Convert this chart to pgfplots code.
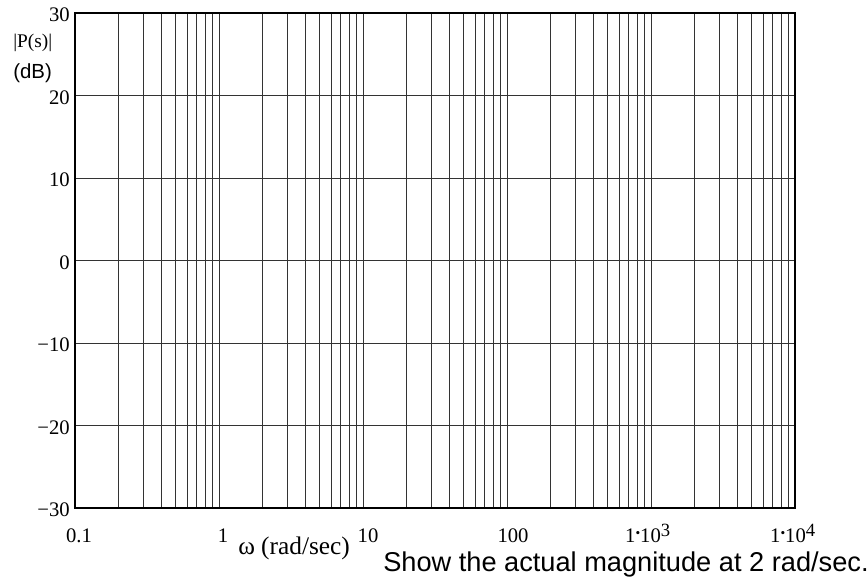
\documentclass[border=0pt]{standalone}
\usepackage{fontspec}
\setmainfont{Liberation Serif}
\newfontfamily\arial{Liberation Sans}
\usepackage{pgfplots}
\pgfplotsset{compat=1.18}
\begin{document}
\begin{tikzpicture}
\path[use as bounding box] (-56.25pt,-54.75pt) rectangle (594.75pt,381pt);
\begin{axis}[
  at={(0pt,0pt)}, anchor=south west,
  scale only axis, width=540pt, height=371.25pt,
  xmode=log, xmin=0.1, xmax=10000, ymin=-30, ymax=30,
  xtick={0.1,1,10,100,1000,10000},
  ytick={-30,-20,-10,0,10,20,30},
  xticklabels={}, yticklabels={},
  major tick length=0pt, minor tick length=0pt,
  grid=both,
  major grid style={black!80, line width=0.7pt},
  minor grid style={black!80, line width=0.7pt},
  axis line style={black, line width=1.5pt},
]
\end{axis}
% tick labels
\begin{scope}[every node/.style={inner sep=0pt, font=\fontsize{15.5}{17}\selectfont}]
\node[anchor=base] at (3pt,-26.25pt) {0.1};
\node[anchor=base] at (111pt,-26.25pt) {1};
\node[anchor=base] at (219.75pt,-26.25pt) {10};
\node[anchor=base] at (328.5pt,-26.25pt) {100};
\node[anchor=base] at (429.75pt,-26.25pt) {1\raisebox{0.25em}{\fontsize{10}{10}\selectfont•}10\textsuperscript{\fontsize{14}{14}\selectfont 3}};
\node[anchor=base] at (538.5pt,-26.25pt) {1\raisebox{0.25em}{\fontsize{10}{10}\selectfont•}10\textsuperscript{\fontsize{14}{14}\selectfont 4}};
\foreach \v/\t in {30/30,20/20,10/10,0/0,-10/−10,-20/−20,-30/−30}{
  \pgfmathsetmacro{\yy}{(\v+30)/60*371.25-1.5}
  \node[anchor=east] at (-3.75pt,\yy pt) {\t};
}
\node[anchor=base west, font=\fontsize{14.5}{16}\selectfont] at (-46.5pt,345pt) {|P(s)|};
\node[anchor=base west, font=\fontsize{19}{21}\selectfont] at (122.25pt,-35.25pt) {ω (rad/sec)};
\end{scope}
\node[anchor=base west, inner sep=0pt, font=\arial\fontsize{15.3}{17}\selectfont] at (-46.5pt,321.75pt) {(dB)};
\node[anchor=base west, inner sep=0pt, font=\arial\fontsize{20.4}{22}\selectfont] at (231pt,-48pt) {Show the actual magnitude at 2 rad/sec.};
\end{tikzpicture}
\end{document}
